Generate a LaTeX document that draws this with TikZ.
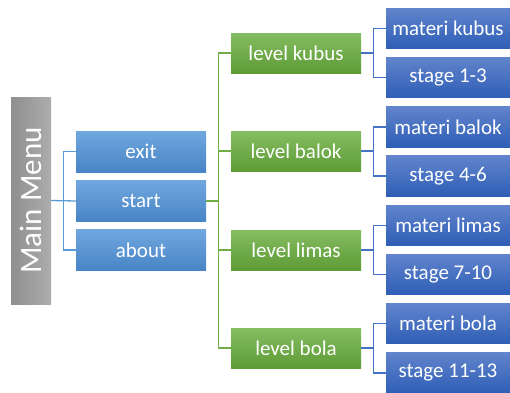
\documentclass[tikz,border=0pt]{standalone}
\usepackage{fontspec}
\setmainfont{Carlito}
\usepackage{tikz}
\usetikzlibrary{shapes,positioning}
\usepackage{xcolor}
\definecolor{menutop}{HTML}{ADADAD}
\definecolor{menubot}{HTML}{8F8F8F}
\definecolor{opttop}{HTML}{70A7DE}
\definecolor{optbot}{HTML}{4884C6}
\definecolor{lvltop}{HTML}{84BD62}
\definecolor{lvlbot}{HTML}{5E9B35}
\definecolor{subtop}{HTML}{6184CC}
\definecolor{subbot}{HTML}{2E5EB6}
\definecolor{optline}{HTML}{5B9BD5}
\definecolor{lvlline}{HTML}{70AD47}
\definecolor{subline}{HTML}{4472C4}
\tikzset{
menubox/.style={rectangle,rotate=90,left color=menubot,right color=menutop,
  minimum width=207pt,minimum height=40pt,text=white,font=\fontsize{31}{31}\selectfont},
optbox/.style={rectangle,top color=opttop,bottom color=optbot,
  minimum width=130pt,minimum height=41pt,text=white,font=\fontsize{21}{21}\selectfont},
lvlbox/.style={rectangle,top color=lvltop,bottom color=lvlbot,
  minimum width=130pt,minimum height=40pt,text=white,font=\fontsize{21}{21}\selectfont},
subbox/.style={rectangle,top color=subtop,bottom color=subbot,
  minimum width=124pt,minimum height=40.5pt,text=white,font=\fontsize{21}{21}\selectfont},
optlink/.style={draw=optline,line width=1.3pt},
lvllink/.style={draw=lvlline,line width=1.3pt},
sublink/.style={draw=subline,line width=1.3pt}
}
\begin{document}
\begin{tikzpicture}[x=1pt,y=1pt]
\useasboundingbox (0,0) rectangle (510,392);
\node[menubox] (menu) at (31,191.5) {Main Menu};
\node[optbox] (exit) at (141,240.5) {exit};
\node[optbox] (start) at (141,191) {start};
\node[optbox] (about) at (141,142) {about};
\node[lvlbox] (kubus) at (296,339) {level kubus};
\node[lvlbox] (balok) at (296,241) {level balok};
\node[lvlbox] (limas) at (296,142) {level limas};
\node[lvlbox] (bola) at (296,44) {level bola};
\node[subbox] (mkubus) at (448,363.5) {materi kubus};
\node[subbox] (skubus) at (448,314.3) {stage 1-3};
\node[subbox] (mbalok) at (448,265.1) {materi balok};
\node[subbox] (sbalok) at (448,215.9) {stage 4-6};
\node[subbox] (mlimas) at (448,166.7) {materi limas};
\node[subbox] (slimas) at (448,117.5) {stage 7-10};
\node[subbox] (mbola) at (448,68.3) {materi bola};
\node[subbox] (sbola) at (448,19.1) {stage 11-13};
% main menu branches
\draw[optlink] (menu.south) -- ++(12,0) |- (exit.west);
\draw[optlink] (menu.south) -- (start.west);
\draw[optlink] (menu.south) -- ++(12,0) |- (about.west);
% levels
\draw[lvllink] (start.east) -- ++(12,0) |- (kubus.west);
\draw[lvllink] (start.east) -- ++(12,0) |- (balok.west);
\draw[lvllink] (start.east) -- ++(12,0) |- (limas.west);
\draw[lvllink] (start.east) -- ++(12,0) |- (bola.west);
% sub items
\draw[sublink] (kubus.east) -- ++(12,0) |- (mkubus.west);
\draw[sublink] (kubus.east) -- ++(12,0) |- (skubus.west);
\draw[sublink] (balok.east) -- ++(12,0) |- (mbalok.west);
\draw[sublink] (balok.east) -- ++(12,0) |- (sbalok.west);
\draw[sublink] (limas.east) -- ++(12,0) |- (mlimas.west);
\draw[sublink] (limas.east) -- ++(12,0) |- (slimas.west);
\draw[sublink] (bola.east) -- ++(12,0) |- (mbola.west);
\draw[sublink] (bola.east) -- ++(12,0) |- (sbola.west);
\end{tikzpicture}
\end{document}
